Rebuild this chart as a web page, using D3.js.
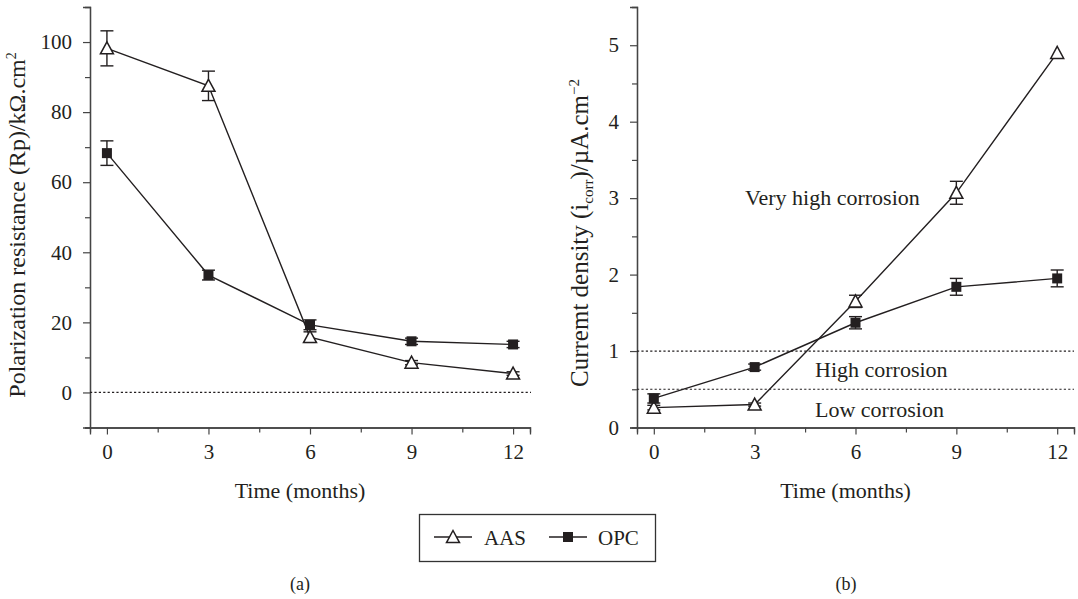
<!DOCTYPE html>
<html><head><meta charset="utf-8">
<script src="https://cdn.jsdelivr.net/npm/d3@7"></script>
<style>
body{margin:0;background:#fff;}
svg{display:block;}
svg text{font-family:"Liberation Serif","Times New Roman",Times,serif !important;fill:#231f20;}
</style></head>
<body><svg id="c" width="1078" height="599"></svg>
<script>
const months = [0, 3, 6, 9, 12];
// Panel (a): polarization resistance (kΩ.cm²)
const rpAAS = [98.2, 87.5, 15.8, 8.5, 5.4];
const rpAASerr = [5.0, 4.2, 1.5, 0.6, 0.5];
const rpOPC = [68.3, 33.5, 19.3, 14.6, 13.7];
const rpOPCerr = [3.5, 1.4, 1.4, 0.9, 0.9];
// Panel (b): corrosion current density (µA.cm⁻²)
const iAAS = [0.26, 0.30, 1.65, 3.07, 4.90];
const iAASerr = [0.03, 0.02, 0.08, 0.15, 0.0];
const iOPC = [0.38, 0.79, 1.37, 1.84, 1.95];
const iOPCerr = [0.06, 0.04, 0.08, 0.11, 0.11];
const xTicks = [0, 3, 6, 9, 12];
const rpTicks = [0, 20, 40, 60, 80, 100];
const iTicks = [0, 1, 2, 3, 4, 5];
const thresholds = [0.5, 1];
const zoneLabels = ["Very high corrosion", "High corrosion", "Low corrosion"];
const zoneValues = [3, 0.75, 0.23];
const seriesNames = ["AAS", "OPC"];

const svg = d3.select("#c");
const ink = "#231f20";

function panel(o) {
  const g = svg.append("g");
  const x = d3.scaleLinear().domain([-0.5, 12.5]).range(o.xr);
  const y = d3.scaleLinear().domain(o.yd).range(o.yr);
  g.append("g").attr("transform", `translate(0,${o.yr[0]})`)
    .call(d3.axisBottom(x).tickValues(xTicks).tickSize(7).tickPadding(10).tickFormat(d3.format("d")));
  g.append("g").attr("transform", `translate(0,${o.yr[0]})`)
    .call(d3.axisBottom(x).tickValues(o.xMinor).tickSize(5).tickFormat(""));
  g.append("g").attr("transform", `translate(${o.xr[0]},0)`)
    .call(d3.axisLeft(y).tickValues(o.yTicks).tickSize(7).tickPadding(11).tickFormat(d3.format("d")));
  g.append("g").attr("transform", `translate(${o.xr[0]},0)`)
    .call(d3.axisLeft(y).tickValues(o.yMinor).tickSize(5).tickFormat(""));
  g.selectAll(".domain").attr("stroke", "#444").attr("stroke-width", 1.3);
  g.selectAll(".tick line").attr("stroke", "#444").attr("stroke-width", 1.2);
  g.selectAll(".tick text").attr("font-size", 21).attr("fill", ink);
  o.refs.forEach(v => {
    g.append("line").attr("x1", o.xr[0]).attr("x2", o.refEnd)
      .attr("y1", y(v)).attr("y2", y(v))
      .attr("stroke", ink).attr("stroke-width", 1.2).attr("stroke-dasharray", "2.2,2.2");
  });
  const draw = (vals, errs, kind) => {
    const pts = months.map((m, i) => ({x: m, y: vals[i], e: errs[i]}));
    g.append("path").datum(pts)
      .attr("d", d3.line().x(d => x(d.x)).y(d => y(d.y)))
      .attr("fill", "none").attr("stroke", ink).attr("stroke-width", 1.4);
    pts.forEach(d => {
      if (d.e > 0) {
        const cx = x(d.x), t = y(d.y + d.e), b = y(d.y - d.e);
        g.append("line").attr("x1", cx).attr("x2", cx).attr("y1", t).attr("y2", b)
          .attr("stroke", ink).attr("stroke-width", 1.4);
        [t, b].forEach(yy => g.append("line").attr("x1", cx - 6.5).attr("x2", cx + 6.5)
          .attr("y1", yy).attr("y2", yy).attr("stroke", ink).attr("stroke-width", 1.4));
      }
    });
    pts.forEach(d => marker(g, x(d.x), y(d.y), kind));
  };
  draw(o.aas, o.aasErr, "tri");
  draw(o.opc, o.opcErr, "sq");
  g.append("text").attr("x", x(6) - 10).attr("y", 498)
    .attr("text-anchor", "middle").attr("font-size", 22).text("Time (months)");
  return {g, x, y};
}

function marker(g, cx, cy, kind) {
  if (kind === "tri") {
    const s = 6.5;
    g.append("path").attr("d", `M${cx},${cy - s}L${cx + s},${cy + s * 0.85}L${cx - s},${cy + s * 0.85}Z`)
      .attr("fill", "#fff").attr("stroke", ink).attr("stroke-width", 1.5);
  } else {
    g.append("rect").attr("x", cx - 5).attr("y", cy - 5).attr("width", 10).attr("height", 10)
      .attr("fill", ink);
  }
}

const A = panel({
  xr: [90, 530], yd: [-10, 110], yr: [427.5, 7],
  yTicks: rpTicks, yMinor: [-10, 10, 30, 50, 70, 90], xMinor: [1.5, 4.5, 7.5, 10.5],
  refs: [0], refEnd: 531,
  aas: rpAAS, aasErr: rpAASerr, opc: rpOPC, opcErr: rpOPCerr
});
A.g.append("text").attr("transform", "translate(25,225) rotate(-90)")
  .attr("text-anchor", "middle").attr("font-size", 24)
  .html('Polarization resistance (Rp)/kΩ.cm<tspan dy="-9" font-size="14">2</tspan>');

const B = panel({
  xr: [637, 1074], yd: [0, 5.5], yr: [427.5, 7],
  yTicks: iTicks, yMinor: [0.5, 1.5, 2.5, 3.5, 4.5], xMinor: [1.5, 4.5, 7.5, 10.5],
  refs: thresholds, refEnd: 1074,
  aas: iAAS, aasErr: iAASerr, opc: iOPC, opcErr: iOPCerr
});
B.g.append("text").attr("transform", "translate(588,233) rotate(-90)")
  .attr("text-anchor", "middle").attr("font-size", 25)
  .html('Curremt density (i<tspan dy="5" font-size="15">corr</tspan><tspan dy="-5">)/µA.cm</tspan><tspan dy="-9" font-size="15">−2</tspan>');
[[zoneLabels[0], 745, zoneValues[0]], [zoneLabels[1], 815, zoneValues[1]], [zoneLabels[2], 815, zoneValues[2]]]
  .forEach(([t, xx, v]) => B.g.append("text").attr("x", xx).attr("y", B.y(v) + 7)
    .attr("font-size", 22).text(t));

const lg = svg.append("g");
lg.append("rect").attr("x", 419.5).attr("y", 514.5).attr("width", 236).attr("height", 47)
  .attr("fill", "#fff").attr("stroke", "#333").attr("stroke-width", 1.3);
[[434, "tri", seriesNames[0], 484], [549, "sq", seriesNames[1], 598]].forEach(([lx, k, name, tx]) => {
  lg.append("line").attr("x1", lx).attr("x2", lx + 38).attr("y1", 537).attr("y2", 537)
    .attr("stroke", ink).attr("stroke-width", 1.4);
  marker(lg, lx + 19, 537, k);
  lg.append("text").attr("x", tx).attr("y", 545).attr("font-size", 21).text(name);
});
svg.append("text").attr("x", 300).attr("y", 590).attr("text-anchor", "middle").attr("font-size", 18).text("(a)");
svg.append("text").attr("x", 846).attr("y", 590).attr("text-anchor", "middle").attr("font-size", 18).text("(b)");
</script></body></html>
